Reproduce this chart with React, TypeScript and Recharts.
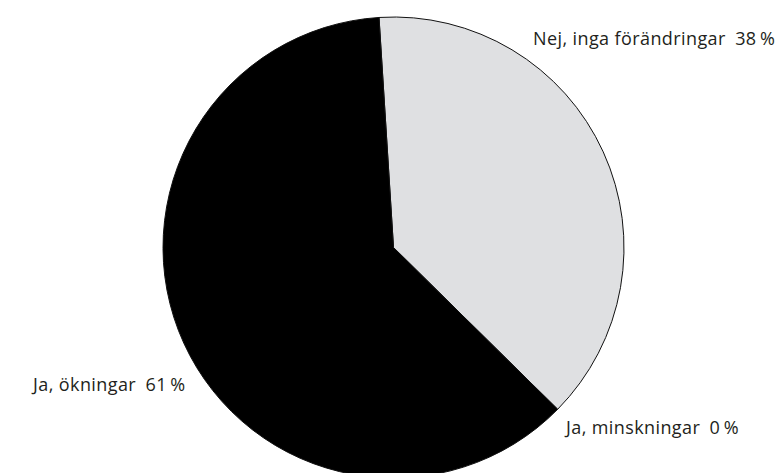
import { Pie, PieChart, Cell } from "recharts";

// Svar på frågan om förändringar – andel i procent
const answers = ["Nej, inga förändringar", "Ja, minskningar", "Ja, ökningar"];
const shares = [38, 0, 61];
const fills = ["#dfe0e2", "#000000", "#000000"];

// label placement (alphabetic baseline) relative to the pie centre
const labelSpots = [
  { anchor: "start", dx: 139.5, dy: -202.5 },
  { anchor: "start", dx: 172.5, dy: 186.5 },
  { anchor: "end", dx: -208, dy: 143.5 },
];

const data = answers.map((name, i) => ({ name, value: shares[i] }));

const renderLabel = (props: any) => {
  const { cx, cy, index, value, name } = props;
  const spot = labelSpots[index];
  return (
    <text
      x={cx + spot.dx}
      y={cy + spot.dy}
      textAnchor={spot.anchor}
      fill="#231f20"
      fontSize={18}
      letterSpacing={0.4}
      fontFamily="'Open Sans', sans-serif"
    >
      {`${name}\u2002${value}\u2009%`}
    </text>
  );
};

export default function App() {
  return (
    <div style={{ width: 782, height: 473, background: "#fff" }}>
      <style>{"body{margin:0}"}</style>
      <PieChart width={782} height={473} margin={{ top: 0, right: 0, bottom: 0, left: 0 }}>
        <Pie
          data={data}
          dataKey="value"
          nameKey="name"
          cx={393.5}
          cy={247.5}
          outerRadius={230.5}
          startAngle={93.6}
          endAngle={-266.4}
          stroke="#111"
          strokeWidth={1}
          label={renderLabel}
          labelLine={false}
          isAnimationActive={false}
        >
          {data.map((d, i) => (
            <Cell key={d.name} fill={fills[i]} />
          ))}
        </Pie>
      </PieChart>
    </div>
  );
}
